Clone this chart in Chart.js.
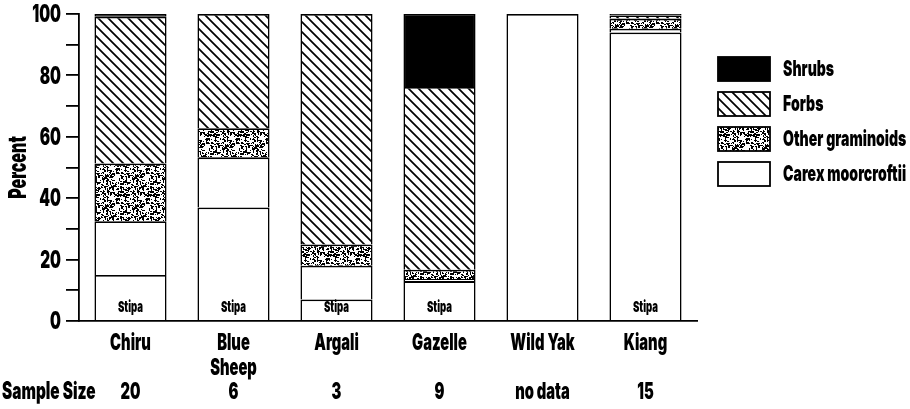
<!doctype html>
<html lang="en">
<head>
<meta charset="utf-8">
<title>Diet composition</title>
<script src="https://cdn.jsdelivr.net/npm/chart.js@4.4.1/dist/chart.umd.min.js"></script>
<style>
  body { margin: 0; background: #fff; }
  #wrap { width: 910px; height: 409px; position: relative; }
</style>
</head>
<body>
<div id="wrap"><canvas id="chart"></canvas></div>
<script>
// values (percent of diet)
var categories = [['Chiru'], ['Blue', 'Sheep'], ['Argali'], ['Gazelle'], ['Wild Yak'], ['Kiang']];
var sampleSizes = ['20', '6', '3', '9', 'no data', '15'];
var stipa = [15, 37, 7, 13, 0, 94];
var carex = [17.5, 16.3, 11, 0.7, 100, 1.2];
var otherGraminoids = [18.8, 9.5, 6.9, 3, 0, 3.3];
var forbs = [47.8, 37.2, 75.1, 59.5, 0, 1];
var shrubs = [0.9, 0, 0, 23.8, 0, 0.5];

var FONT = "Inter, 'DejaVu Sans', sans-serif";
var SQUEEZE = 0.64;   // the printed figure uses a heavy condensed face

// draw text squeezed horizontally
function ctext(ctx, text, x, y, size, align) {
    ctx.save();
    ctx.font = '900 ' + size + 'px ' + FONT;
    ctx.fillStyle = '#000';
    ctx.textBaseline = 'middle';
    ctx.textAlign = align || 'center';
    ctx.translate(x, y);
    ctx.scale(SQUEEZE, 1);
    ctx.fillText(text, 0, 0);
    ctx.restore();
}

function hatchPattern() {
    var c = document.createElement('canvas');
    c.width = 10; c.height = 10;
    var g = c.getContext('2d');
    g.fillStyle = '#fff';
    g.fillRect(0, 0, 10, 10);
    g.strokeStyle = '#000';
    g.lineWidth = 1.7;
    g.beginPath();
    g.moveTo(-5, 5); g.lineTo(5, 15);
    g.moveTo(0, 0); g.lineTo(10, 10);
    g.moveTo(5, -5); g.lineTo(15, 5);
    g.stroke();
    return g.createPattern(c, 'repeat');
}

function speckPattern() {
    var n = 30;
    var c = document.createElement('canvas');
    c.width = n; c.height = n;
    var g = c.getContext('2d');
    g.fillStyle = '#fff';
    g.fillRect(0, 0, n, n);
    g.fillStyle = '#000';
    // fixed texture, simple lcg so it is the same every time
    var s = 12345;
    function rnd() { s = (s * 1103515245 + 12345) % 2147483648; return s / 2147483648; }
    for (var k = 0; k < 270; k++) {
        var x = Math.floor(rnd() * n), y = Math.floor(rnd() * n);
        var w = rnd() < 0.5 ? 2 : 1;
        var h = rnd() < 0.3 ? 2 : 1;
        g.fillRect(x, y, w, h);
    }
    return g.createPattern(c, 'repeat');
}

var hatch = hatchPattern();
var speck = speckPattern();

function ds(label, data, fill) {
    return {
        label: label,
        data: data,
        backgroundColor: fill,
        borderColor: '#000',
        borderWidth: { left: 1.6, right: 1.6, top: 1.8, bottom: 0 },
        borderSkipped: false,
        barPercentage: 0.7,
        categoryPercentage: 1.0
    };
}

var stipaLabels = {
    id: 'stipaLabels',
    afterDatasetsDraw: function(chart) {
        var meta = chart.getDatasetMeta(0);
        meta.data.forEach(function(el, i) {
            if (stipa[i] > 0) ctext(chart.ctx, 'Stipa', el.x, el.base - 13, 15);
        });
    }
};

// axis labels, sample size row and legend, all in the condensed face
var textLayer = {
    id: 'textLayer',
    afterDraw: function(chart) {
        var ctx = chart.ctx;
        var xs = chart.scales.x, ys = chart.scales.y;

        ys.ticks.forEach(function(t) {
            if (t.value % 20 === 0) ctext(ctx, String(t.value), 61, ys.getPixelForValue(t.value) + 1, 24, 'right');
        });
        ctx.save();
        ctx.translate(18, (ys.top + ys.bottom) / 2);
        ctx.rotate(-Math.PI / 2);
        ctext(ctx, 'Percent', 0, 0, 25);
        ctx.restore();

        categories.forEach(function(lines, i) {
            var x = xs.getPixelForValue(i);
            lines.forEach(function(l, k) { ctext(ctx, l, x, 343 + k * 25, 23); });
            ctext(ctx, sampleSizes[i], x, 392, 23);
        });
        ctext(ctx, 'Sample Size', 2, 392, 24, 'left');

        var items = chart.data.datasets.slice(1).reverse();
        items.forEach(function(d, i) {
            var y = 57 + i * 35;
            ctx.save();
            ctx.fillStyle = d.backgroundColor;
            ctx.fillRect(718, y, 52, 24);
            ctx.strokeStyle = '#000';
            ctx.lineWidth = 1.8;
            ctx.strokeRect(718, y, 52, 24);
            ctx.restore();
            ctext(ctx, d.label, 783, y + 12, 22, 'left');
        });
    }
};

new Chart(document.getElementById('chart'), {
    type: 'bar',
    data: {
        labels: categories,
        datasets: [
            ds('Stipa', stipa, '#fff'),
            ds('Carex moorcroftii', carex, '#fff'),
            ds('Other graminoids', otherGraminoids, speck),
            ds('Forbs', forbs, hatch),
            ds('Shrubs', shrubs, '#000')
        ]
    },
    plugins: [stipaLabels, textLayer],
    options: {
        responsive: true,
        maintainAspectRatio: false,
        animation: false,
        layout: { padding: { top: 14, right: 213, left: 0, bottom: 0 } },
        plugins: {
            legend: { display: false },
            tooltip: { enabled: false }
        },
        scales: {
            x: {
                stacked: true,
                grid: { display: false },
                border: { color: '#000', width: 1.8 },
                ticks: { color: 'rgba(0,0,0,0)', maxRotation: 0, autoSkip: false },
                afterFit: function(s) { s.height = 88; }
            },
            y: {
                stacked: true,
                min: 0,
                max: 100,
                grid: { drawOnChartArea: false, drawTicks: true, tickLength: 13, color: '#000', lineWidth: 1.8 },
                border: { color: '#000', width: 1.8 },
                ticks: { stepSize: 10, color: 'rgba(0,0,0,0)' },
                afterFit: function(s) { s.width = 79; }
            }
        }
    }
});
</script>
</body>
</html>
